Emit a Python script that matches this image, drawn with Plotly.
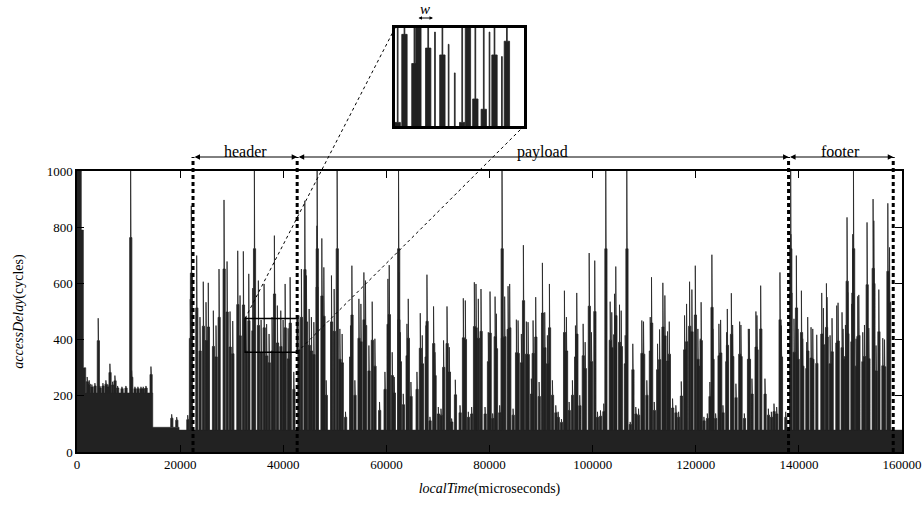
import plotly.graph_objects as go

# ---------------- data ----------------
# stepped floor of the access delay (start time in microseconds, level in cycles)
base_t = [0, 850, 1250, 1700, 14700, 19800, 160000]
base_v = [1000, 790, 300, 210, 88, 78, 78]

# individual access-delay spikes: time (microseconds) and height (cycles)
spike_t = [
    2000, 2390, 2910, 3500, 4140, 4470, 5050, 5630, 6020, 6410, 6930, 7380, 7900,
    8740, 9510, 10430, 10620, 11260, 11840, 12430, 12870, 13400, 14370,
    18390, 19360, 21500, 22000, 22200,
    23240, 23880, 24520, 25050, 25490, 26470, 26990, 27570, 28540, 29130, 29710,
    30230, 31200, 31650, 32290, 32810, 33340, 34120, 34430, 35200, 35730, 36310,
    36800, 37280, 37860, 38310, 38890, 39550, 40000, 40390, 40970, 41360, 42070,
    43050, 43550, 44210, 44520, 45050, 45490, 45960, 46560, 46600, 47510, 47900,
    48350, 49380, 49900, 50480, 51010, 51450, 52100, 53070, 53340, 53920, 54700,
    55090, 55670, 55980, 56640, 57280, 57800, 58700, 59750, 60330, 60580, 61160,
    61550, 62390, 62430, 62720, 63300, 64020, 64270, 64790, 65960, 66600, 66990,
    67710, 67900, 68480, 69180, 69450, 70100, 70620, 71120, 71790, 72230, 72680,
    73400, 74310, 74950, 75340, 75920, 76560, 77090, 77410, 77860, 78380, 79160,
    79800, 80130, 80640, 81110,
    81360, 82000, 82460, 82500, 82970, 83630, 83940, 84600, 85240, 85570, 86210,
    86600, 87180, 87510, 88150, 88480, 88990, 89650, 90290, 90740, 91260, 91650,
    92230, 92880, 93340, 93980, 94560, 94950, 95470, 96110, 96700, 96950, 97530,
    98190, 98580, 99360, 99800, 100440, 100970,
    101550, 102190, 102580, 103430, 103740, 104270, 104520, 105240, 105570,
    106350, 106660, 107310, 107820, 108400, 108930, 109570, 109900, 110540,
    111200, 111450, 111980, 112620, 113010, 113650, 114040, 114560, 114890,
    115530, 116170, 116700, 117220, 117860, 118250, 118830, 119280, 119940,
    120440, 120910,
    121070, 121610, 122270, 122770, 123160, 123350, 123880, 124520, 124850,
    125300, 126020, 126150, 126930, 127180, 127820, 128540, 128790, 129450,
    130230, 130420, 130930, 131700, 131900, 132620, 133450, 134110, 134690,
    135200, 135720, 136360, 136630, 137470, 138440, 138480, 139080, 139540,
    139860, 140520,
    140770, 141550, 141740, 142390, 142720, 143490, 144460, 144790, 145370,
    145490, 146080, 146460, 147370, 147630, 148400, 148600, 149060, 149370,
    149510, 150290, 150480, 150620, 151120, 151450, 151650, 152420, 152750,
    153250, 153590, 154420, 154560, 155000, 155530, 156300, 156640, 157280,
    157610,
]
spike_v = [
    267, 255, 240, 245, 476, 235, 245, 255, 240, 314, 250, 272, 235,
    232, 235, 1000, 290, 232, 232, 232, 232, 235, 304,
    134, 124, 131, 544, 876,
    699, 480, 606, 533, 602, 503, 450, 651, 897, 678, 500,
    466, 716, 557, 714, 480, 634, 583, 1000, 610, 470, 598,
    455, 420, 480, 770, 521, 503, 470, 598, 440, 622, 285,
    486, 651, 894, 628, 509, 480, 462, 805, 1000, 760, 657,
    255, 628, 580, 1000, 438, 420, 143, 450, 663, 255, 545,
    527, 639, 610, 379, 535, 403, 178, 285, 616, 665, 355,
    267, 1000, 639, 426, 207, 456, 545, 249, 285, 494, 415,
    450, 631, 125, 518, 355, 160, 154, 397, 518, 373, 119,
    257, 166, 547, 539, 143, 160, 604, 598, 545, 580, 160,
    426, 571, 137, 553,
    492, 166, 1000, 545, 553, 590, 598, 154, 471, 468, 420,
    736, 464, 462, 261, 468, 551, 249, 673, 497, 415, 598,
    255, 166, 143, 117, 574, 480, 178, 255, 450, 566, 202,
    456, 391, 708, 426, 681, 143,
    148, 172, 1000, 535, 497, 563, 660, 524, 503,
    415, 1000, 107, 385, 160, 154, 468, 464, 255,
    480, 622, 178, 385, 436, 602, 557, 429, 464,
    190, 166, 143, 251, 486, 527, 606, 578, 663,
    438, 403,
    533, 125, 137, 249, 702, 438, 137, 456, 470,
    166, 426, 509, 565, 452, 243, 464, 452, 137,
    438, 438, 261, 500, 486, 592, 261, 154, 143,
    172, 160, 639, 450, 143, 1000, 775, 474, 699,
    438, 574,
    403, 391, 480, 444, 438, 417, 566, 512, 600,
    551, 415, 476, 521, 531, 497, 438, 452, 835,
    568, 527, 775, 1000, 403, 554, 559, 426, 452,
    817, 441, 900, 823, 379, 578, 405, 400, 885,
    728,
]

x_ticks = list(range(0, 160001, 20000))
y_ticks = list(range(0, 1001, 200))
section_bounds = [22500, 42700, 138000, 158300]
section_names = ["header", "payload", "footer"]
zoom_x = [32600, 42700]
zoom_y = [355, 475]

# ---------------- figure ----------------
INK = "#222222"
SERIF = "Liberation Serif"
HW = 210       # half width of a drawn spike column, microseconds
TIP = 30       # half width of the thin tip above the column, microseconds
BODY = 0.70    # fraction of the spike height drawn as a solid column


def base_at(t):
    lvl = base_v[0]
    for bt, bv in zip(base_t, base_v):
        if t >= bt:
            lvl = bv
    return lvl


px, py = [], []
for t, v in zip(spike_t, spike_v):
    b = base_at(t)
    body = b + BODY * (v - b)
    px += [t - HW, t - HW, t - TIP, t - TIP, t + TIP, t + TIP, t + HW, t + HW, None]
    py += [b, body, body, v, v, body, body, b, None]

fig = go.Figure()
for xa, ya in (("x", "y"), ("x2", "y2")):
    fig.add_trace(go.Scatter(x=base_t, y=base_v, mode="lines", line_shape="hv",
                             line=dict(color=INK, width=0.5), fill="tozeroy",
                             fillcolor=INK, xaxis=xa, yaxis=ya, hoverinfo="skip",
                             showlegend=False))
    fig.add_trace(go.Scatter(x=px, y=py, mode="lines",
                             line=dict(color=INK, width=0.8), fill="toself",
                             fillcolor=INK, xaxis=xa, yaxis=ya, hoverinfo="skip",
                             showlegend=False))

W, H = 924, 507
ML, MR, MT, MB = 77, 22, 28, 55
pw, ph = W - ML - MR, H - MT - MB
main_top = (452 - 171) / ph
inset_bottom = (452 - 126) / ph
inset_x0 = (395 - ML) / pw
inset_x1 = (524 - ML) / pw

axfont = dict(family=SERIF, size=13, color="black")
fig.update_layout(
    width=W, height=H, margin=dict(l=ML, r=MR, t=MT, b=MB),
    plot_bgcolor="white", paper_bgcolor="white", showlegend=False,
    font=dict(family=SERIF, color="black"),
    xaxis=dict(domain=[0, 1], range=[0, 160000], tickvals=x_ticks,
               ticktext=[str(v) for v in x_ticks], automargin=False,
               ticks="inside", ticklen=7, tickcolor="black", showline=True,
               linecolor="black", linewidth=1.5, mirror="ticks", showgrid=False,
               zeroline=False, tickfont=axfont, anchor="y",
               title=dict(text="<i>localTime</i>(microseconds)",
                          font=dict(family=SERIF, size=14), standoff=12)),
    yaxis=dict(domain=[0, main_top], range=[0, 1000], tickvals=y_ticks,
               ticktext=[str(v) for v in y_ticks], automargin=False,
               ticks="inside", ticklen=7, tickcolor="black", showline=True,
               linecolor="black", linewidth=1.5, mirror="ticks", showgrid=False,
               zeroline=False, tickfont=axfont, anchor="x",
               title=dict(text="<i>accessDelay</i>(cycles)",
                          font=dict(family=SERIF, size=14), standoff=20)),
    xaxis2=dict(domain=[inset_x0, inset_x1], range=zoom_x, anchor="y2",
                showticklabels=False, ticks="", showgrid=False, zeroline=False,
                showline=True, mirror=True, linecolor="black", linewidth=3),
    yaxis2=dict(domain=[inset_bottom, 1], range=zoom_y, anchor="x2",
                showticklabels=False, ticks="", showgrid=False, zeroline=False,
                showline=True, mirror=True, linecolor="black", linewidth=3),
)

arrow_y = (452 - 157) / ph
label_y = (452 - 141) / ph

shapes = []
for b in section_bounds:
    shapes.append(dict(type="line", xref="x", yref="paper", x0=b, x1=b, y0=0, y1=arrow_y,
                       line=dict(color="black", width=3, dash="4px,3px")))
shapes.append(dict(type="rect", xref="x", yref="y", x0=zoom_x[0], x1=zoom_x[1],
                   y0=zoom_y[0], y1=zoom_y[1], line=dict(color="black", width=1.5)))
shapes.append(dict(type="line", xref="paper", yref="paper",
                   x0=zoom_x[0] / 160000, y0=zoom_y[1] / 1000 * main_top,
                   x1=inset_x0, y1=1.0, line=dict(color="black", width=1, dash="dot")))
shapes.append(dict(type="line", xref="paper", yref="paper",
                   x0=zoom_x[1] / 160000, y0=zoom_y[0] / 1000 * main_top,
                   x1=inset_x1, y1=inset_bottom, line=dict(color="black", width=1, dash="dot")))
fig.update_layout(shapes=shapes)

for i, name in enumerate(section_names):
    a, b = section_bounds[i], section_bounds[i + 1]
    fig.add_annotation(x=b, y=arrow_y, xref="x", yref="paper", ax=a, ay=0,
                       axref="x", ayref="pixel", text="", showarrow=True,
                       arrowhead=2, arrowside="end+start", arrowsize=1.1,
                       arrowwidth=1, arrowcolor="black")
    fig.add_annotation(x=(a + b) / 2, y=label_y, xref="x", yref="paper", text=name,
                       showarrow=False, font=dict(family=SERIF, size=16))

fig.add_annotation(x=(433 - ML) / pw, y=(452 - 18) / ph, xref="paper", yref="paper",
                   ax=-16, ay=0, text="", showarrow=True, arrowhead=2,
                   arrowside="end+start", arrowsize=0.7, arrowwidth=1, arrowcolor="black")
fig.add_annotation(x=(425 - ML) / pw, y=(452 + 1) / ph, xref="paper", yref="paper",
                   text="<i>w</i>", showarrow=False, font=dict(family=SERIF, size=15),
                   yanchor="top")

fig.write_html("out.html", config={"displayModeBar": False},
               post_script="document.body.style.margin='0px';")
